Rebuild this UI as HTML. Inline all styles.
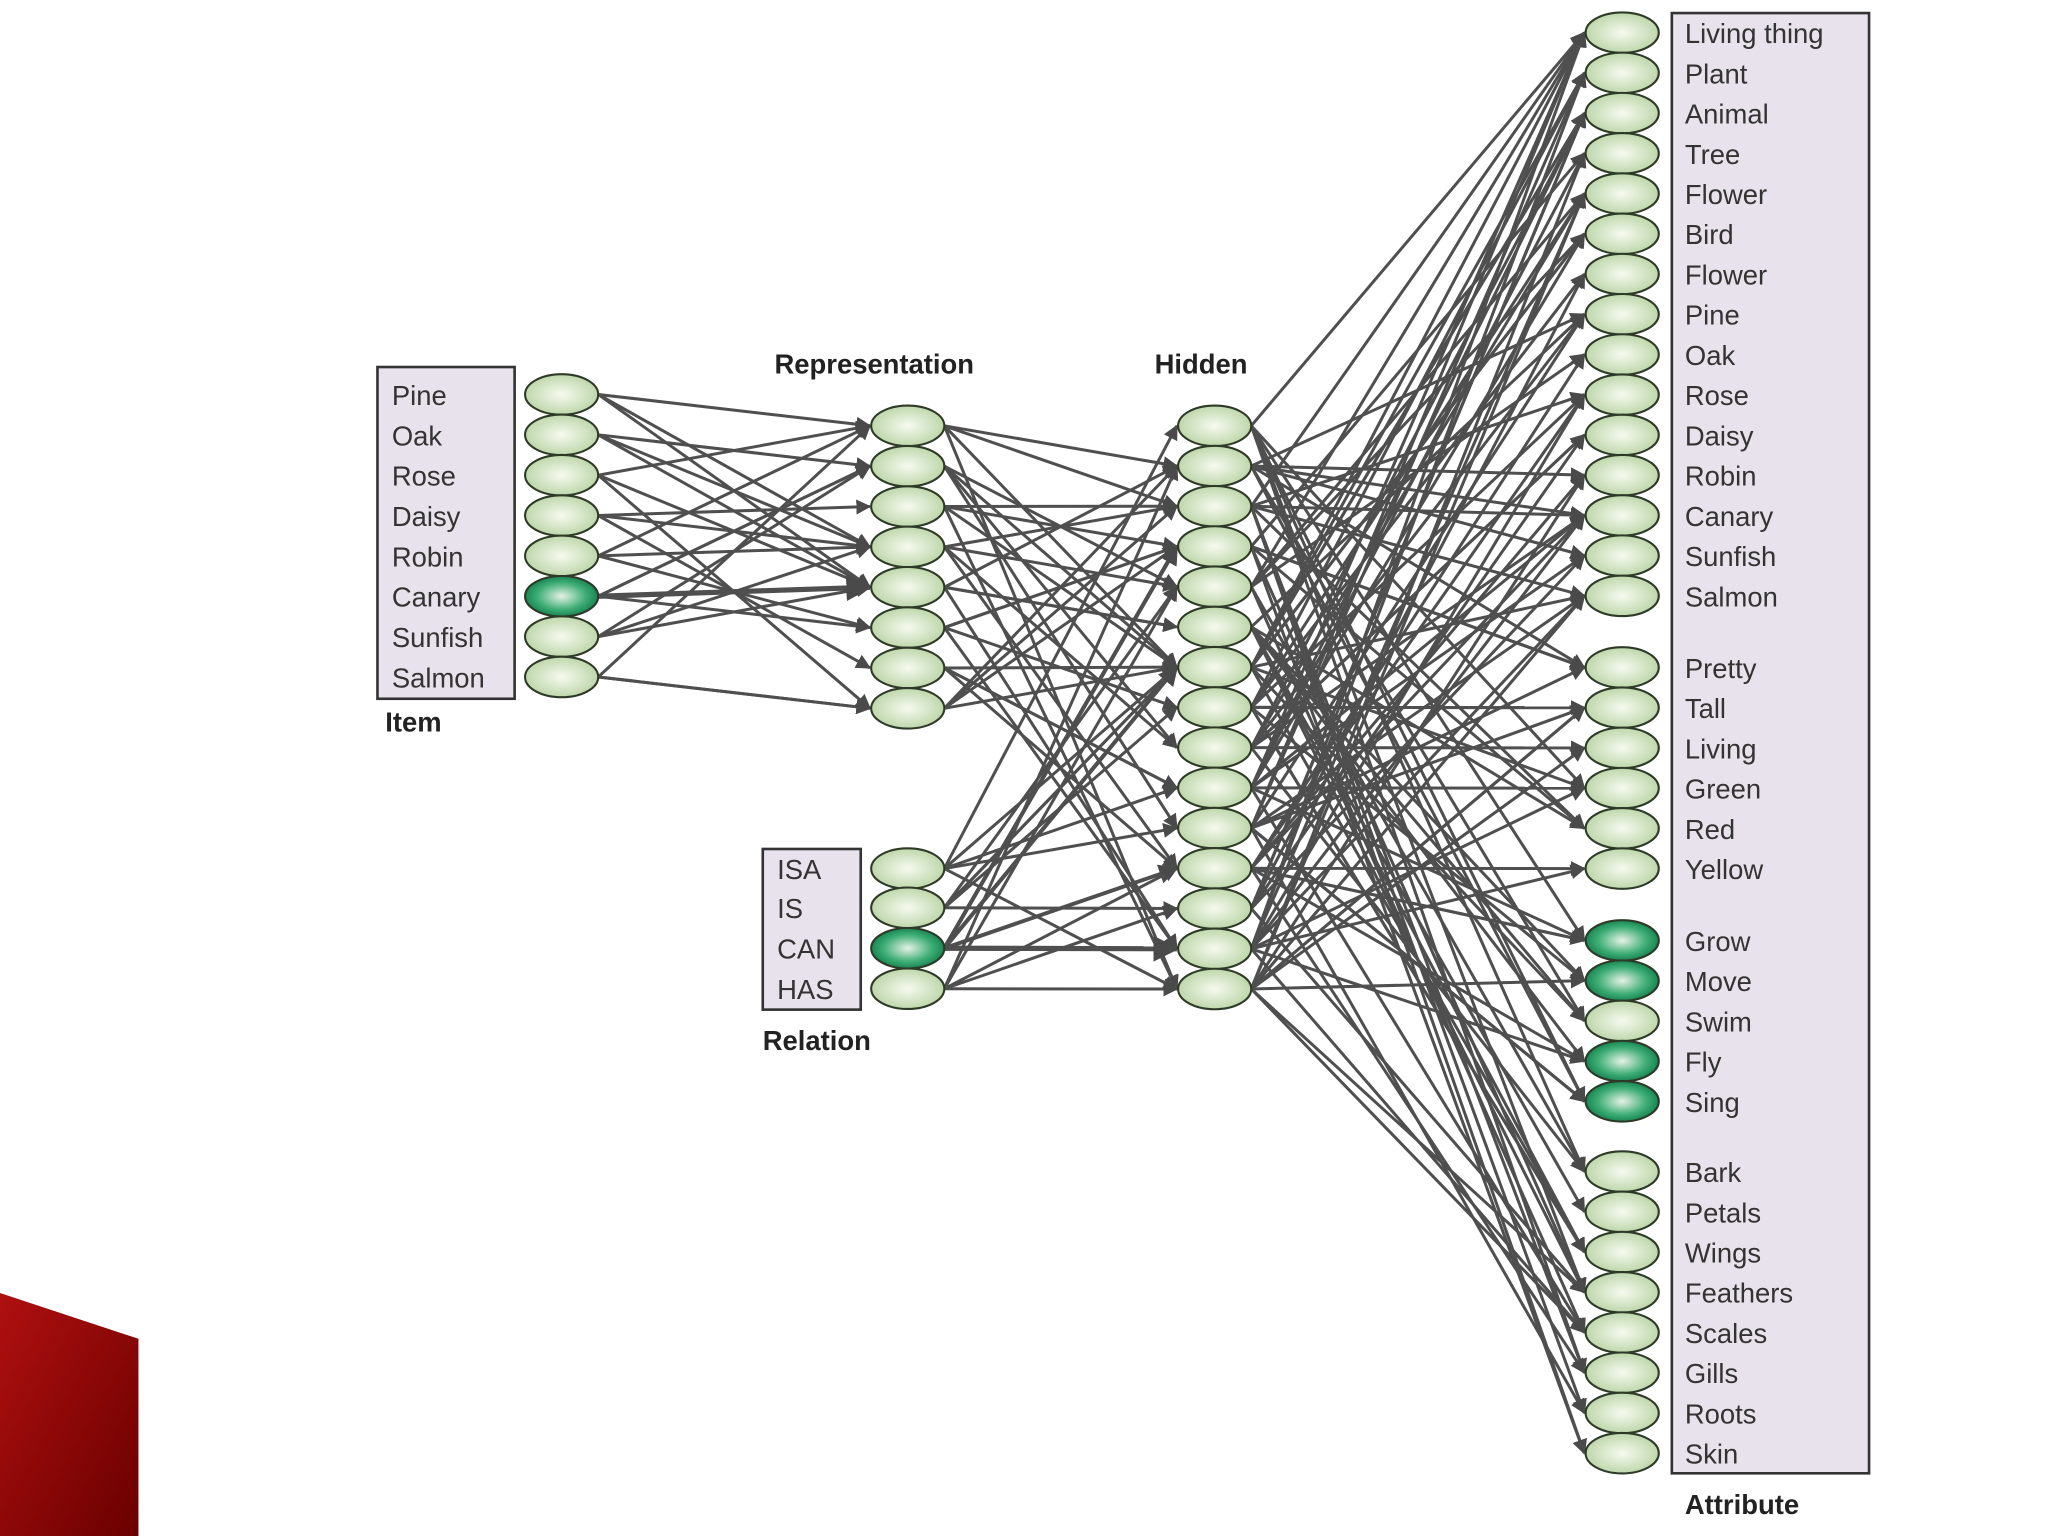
<!DOCTYPE html>
<html><head><meta charset="utf-8"><style>
html,body{margin:0;padding:0;background:#fff;width:2048px;height:1536px;overflow:hidden}
svg text{font-family:"Liberation Sans",sans-serif}
</style></head><body>
<svg id="s" width="2048" height="1536" viewBox="0 0 1568 1176" preserveAspectRatio="none" xmlns="http://www.w3.org/2000/svg">
<defs>
<radialGradient id="gl" cx="50%" cy="50%" r="55%"><stop offset="0" stop-color="#f6faf0"/><stop offset="1" stop-color="#b9d3a4"/></radialGradient>
<radialGradient id="gd" cx="50%" cy="50%" r="55%"><stop offset="0" stop-color="#e6f2e6"/><stop offset="0.6" stop-color="#3fae76"/><stop offset="1" stop-color="#0d7a48"/></radialGradient>
<linearGradient id="red" x1="0" y1="0" x2="1" y2="1"><stop offset="0" stop-color="#b01010"/><stop offset="1" stop-color="#6a0000"/></linearGradient>
<marker id="ah" viewBox="0 0 10 10" refX="9" refY="5" markerWidth="5" markerHeight="5" orient="auto"><path d="M0,0L10,5L0,10z" fill="#4a4a4a"/></marker>
</defs>
<polygon points="0,990 106,1025 106,1176 0,1176" fill="url(#red)"/>
<rect x="289" y="281" width="105" height="254" fill="#e8e2ec" stroke="#333" stroke-width="2"/>
<rect x="584" y="650" width="75" height="123" fill="#e8e2ec" stroke="#333" stroke-width="2"/>
<rect x="1280" y="10" width="151" height="1118" fill="#e8e2ec" stroke="#333" stroke-width="2"/>
<g id="edges" stroke="#4f4f4f" stroke-width="2.3" fill="none"></g>
<g id="nodes"></g>
<g id="txt" font-size="21" fill="#333"></g>
<g font-size="21" font-weight="bold" fill="#222">
<text x="295" y="560">Item</text>
<text x="593" y="286">Representation</text>
<text x="884" y="286">Hidden</text>
<text x="584" y="804">Relation</text>
<text x="1290" y="1159">Attribute</text>
</g>
</svg>
<script>
var NS="http://www.w3.org/2000/svg";
function el(t,a,p){var e=document.createElementNS(NS,t);for(var k in a)e.setAttribute(k,a[k]);p.appendChild(e);return e;}
var E=document.getElementById('edges'),N=document.getElementById('nodes'),T=document.getElementById('txt');
var item=[],rep=[],rel=[],hid=[],att=[];
for(var i=0;i<8;i++)item.push(302+i*30.9);
for(var i=0;i<8;i++)rep.push(326+i*30.9);
rel=[665,695,726,757];
for(var i=0;i<15;i++)hid.push(326+i*30.8);
for(var i=0;i<15;i++)att.push(25+i*30.8);
for(var i=0;i<6;i++)att.push(511+i*30.8);
for(var i=0;i<5;i++)att.push(720+i*30.8);
for(var i=0;i<8;i++)att.push(897+i*30.8);
var seed=7;function rnd(){seed=(seed*9301+49297)%233280;return seed/233280;}
function edge(x1,y1,x2,y2,w){el('line',{x1:x1,y1:y1,x2:x2,y2:y2,'marker-end':'url(#ah)','stroke-width':w||2.3},E);}
item.forEach(function(y,i){for(var j=0;j<3;j++){var t=Math.floor(rnd()*8);edge(458,y,666,rep[t]);}});
edge(458,item[5],666,rep[4],4);
rep.forEach(function(y){for(var j=0;j<4;j++){var t=Math.floor(rnd()*15);edge(723,y,901,hid[t]);}});
rel.forEach(function(y,i){for(var j=0;j<5;j++){var t=Math.floor(rnd()*15);edge(723,y,901,hid[t],i==2?3:2.3);}});
edge(723,rel[2],901,hid[13],4);
hid.forEach(function(y){for(var j=0;j<6;j++){var t=Math.floor(rnd()*34);edge(958,y,1213,att[t]);}});
for(var t=0;t<34;t++){var h=Math.floor(rnd()*15);edge(958,hid[h],1213,att[t]);}
function node(x,y,d){el('ellipse',{cx:x,cy:y,rx:28,ry:15.5,fill:d?'url(#gd)':'url(#gl)',stroke:'#2e3a28','stroke-width':1.6},N);}
item.forEach(function(y,i){node(430,y,i==5);});
rep.forEach(function(y){node(695,y,false);});
rel.forEach(function(y,i){node(695,y,i==2);});
hid.forEach(function(y){node(930,y,false);});
att.forEach(function(y,i){node(1242,y,[21,22,24,25].indexOf(i)>=0);});
function tx(x,y,s){var e=el('text',{x:x,y:y+8},T);e.textContent=s;}
["Pine","Oak","Rose","Daisy","Robin","Canary","Sunfish","Salmon"].forEach(function(s,i){tx(300,item[i],s);});
["ISA","IS","CAN","HAS"].forEach(function(s,i){tx(595,rel[i],s);});
["Living thing","Plant","Animal","Tree","Flower","Bird","Flower","Pine","Oak","Rose","Daisy","Robin","Canary","Sunfish","Salmon","Pretty","Tall","Living","Green","Red","Yellow","Grow","Move","Swim","Fly","Sing","Bark","Petals","Wings","Feathers","Scales","Gills","Roots","Skin"].forEach(function(s,i){tx(1290,att[i],s);});
</script>
</body></html>
